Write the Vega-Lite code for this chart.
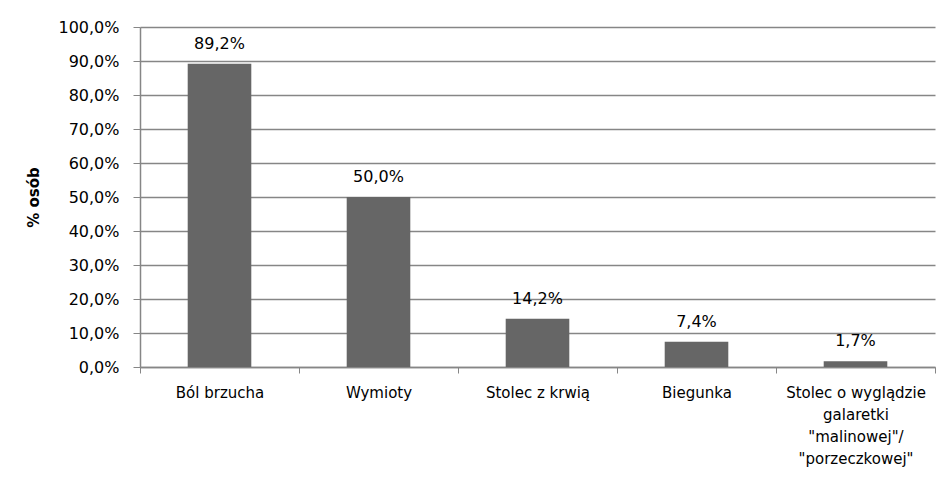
{
  "$schema": "https://vega.github.io/schema/vega-lite/v6.json",
  "autosize": {"type": "none"},
  "width": 795,
  "height": 340,
  "padding": {"left": 140, "top": 27, "right": 3, "bottom": 118},
  "background": "white",
  "config": {
    "font": "DejaVu Sans",
    "view": {"stroke": null}
  },
  "data": {
    "values": [
      {"objaw": "Ból brzucha", "pct": 0.892, "order": 1},
      {"objaw": "Wymioty", "pct": 0.5, "order": 2},
      {"objaw": "Stolec z krwią", "pct": 0.142, "order": 3},
      {"objaw": "Biegunka", "pct": 0.074, "order": 4},
      {"objaw": "Stolec o wyglądzie\ngalaretki\n\"malinowej\"/\n\"porzeczkowej\"", "pct": 0.017, "order": 5}
    ]
  },
  "encoding": {
    "x": {
      "field": "objaw",
      "type": "nominal",
      "sort": {"field": "order"},
      "scale": {"paddingInner": 0, "paddingOuter": 0},
      "axis": {
        "title": null,
        "labelAngle": 0,
        "labelExpr": "split(datum.label, '\\n')",
        "labelFont": "DejaVu Sans",
        "labelFontSize": 15,
        "labelColor": "#000000",
        "labelLineHeight": 22,
        "labelPadding": 12,
        "labelLimit": 300,
        "labelOverlap": false,
        "bandPosition": 0,
        "tickBand": "extent",
        "tickSize": 6,
        "tickColor": "#868686",
        "domainColor": "#868686",
        "domainWidth": 1.5,
        "grid": false
      }
    },
    "y": {
      "field": "pct",
      "type": "quantitative",
      "scale": {"domain": [0, 1], "nice": false},
      "axis": {
        "title": "% osób",
        "titleFont": "DejaVu Sans",
        "titleFontSize": 15,
        "titleFontWeight": "bold",
        "titleColor": "#000000",
        "titlePadding": 16,
        "values": [0, 0.1, 0.2, 0.3, 0.4, 0.5, 0.6, 0.7, 0.8, 0.9, 1.0],
        "labelExpr": "replace(format(datum.value, '.1%'), '.', ',')",
        "labelFont": "DejaVu Sans",
        "labelFontSize": 16,
        "labelColor": "#000000",
        "labelPadding": 14,
        "labelOverlap": false,
        "tickSize": 7,
        "tickColor": "#868686",
        "domainColor": "#868686",
        "domainWidth": 1.5,
        "grid": true,
        "gridColor": "#868686",
        "gridWidth": 1.5
      }
    }
  },
  "layer": [
    {
      "mark": {"type": "bar", "color": "#666666", "width": {"band": 0.4}}
    },
    {
      "mark": {"type": "text", "baseline": "bottom", "dy": -12, "font": "DejaVu Sans", "fontSize": 16, "color": "#000000"},
      "encoding": {
        "text": {"value": {"expr": "replace(format(datum.pct, '.1%'), '.', ',')"}}
      }
    }
  ]
}
